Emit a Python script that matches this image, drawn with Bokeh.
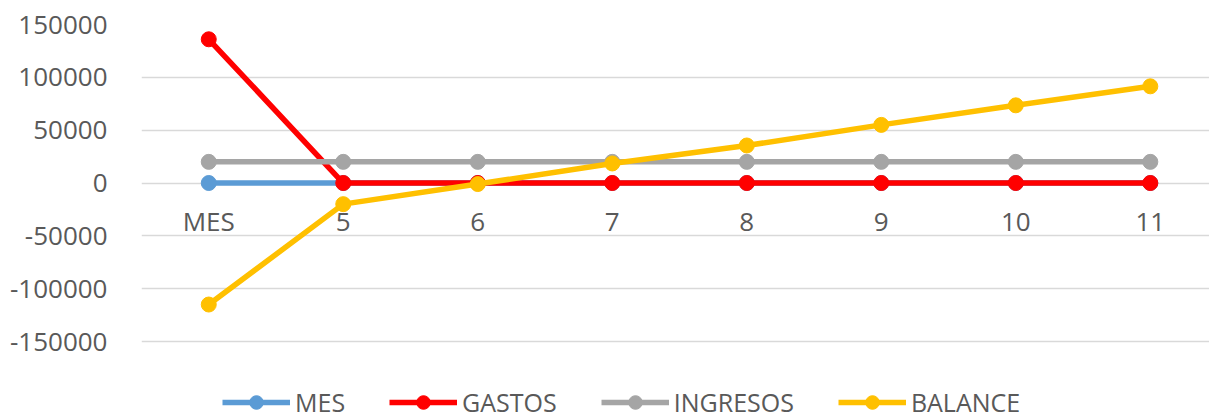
from bokeh.plotting import figure
from bokeh.models import Range1d, FixedTicker, NumeralTickFormatter, Legend, LegendItem
from bokeh.embed import file_html
from bokeh.resources import INLINE

categories = ["MES", "5", "6", "7", "8", "9", "10", "11"]
mes = [0, 0, 0, 0, 0, 0, 0, 0]
gastos = [136000, 0, 0, 0, 0, 0, 0, 0]
ingresos = [20000, 20000, 20000, 20000, 20000, 20000, 20000, 20000]
balance = [-115000, -20000, -1000, 18500, 35500, 55000, 73500, 91500]
y_ticks = [-150000, -100000, -50000, 0, 50000, 100000, 150000]

series = [("MES", mes, "#5B9BD5"), ("GASTOS", gastos, "#FF0000"),
          ("INGRESOS", ingresos, "#A5A5A5"), ("BALANCE", balance, "#FFC000")]

xs = list(range(len(categories)))
FONT = "Open Sans"
TXT = "#595959"

# frame extends below the lowest gridline to leave room for the legend
p = figure(width=1209, height=419, output_backend="svg", toolbar_location=None,
           x_range=Range1d(-0.5, 7.44), y_range=Range1d(-223800, 150000),
           min_border_left=141, min_border_right=0, min_border_top=24, min_border_bottom=0)
p.outline_line_color = None
p.xgrid.grid_line_color = None
p.ygrid.grid_line_color = "#D9D9D9"
p.ygrid.grid_line_width = 1.5
p.background_fill_color = "white"
p.border_fill_color = "white"

p.yaxis.ticker = FixedTicker(ticks=y_ticks)
p.yaxis.formatter = NumeralTickFormatter(format="0")
p.yaxis.axis_line_color = None
p.yaxis.major_tick_line_color = None
p.yaxis.minor_tick_line_color = None
p.yaxis.major_label_standoff = 28
p.yaxis.major_label_text_font = FONT
p.yaxis.major_label_text_font_size = "26px"
p.yaxis.major_label_text_color = TXT

p.xaxis.ticker = FixedTicker(ticks=xs)
p.xaxis.major_label_overrides = {i: c for i, c in zip(xs, categories)}
p.xaxis.fixed_location = 0
p.xaxis.axis_line_color = None
p.xaxis.major_tick_line_color = None
p.xaxis.minor_tick_line_color = None
p.xaxis.major_tick_out = 0
p.xaxis.major_label_standoff = 20
p.xaxis.major_label_text_font = FONT
p.xaxis.major_label_text_font_size = "26px"
p.xaxis.major_label_text_color = TXT

items = []
for name, vals, col in series:
    ln = p.line(xs, vals, line_color=col, line_width=5.5)
    sc = p.scatter(xs, vals, size=15, fill_color=col, line_color=col)
    items.append(LegendItem(label=name, renderers=[ln, sc]))

legend = Legend(items=items, orientation="horizontal", location=(81, 0),
                glyph_width=68, glyph_height=34, label_height=20, label_standoff=5,
                spacing=44, padding=0, margin=0, border_line_color=None,
                background_fill_alpha=0, label_text_font=FONT,
                label_text_font_size="25px", label_text_color=TXT)
p.add_layout(legend, "center")

open("out.html", "w").write(file_html(p, INLINE))
